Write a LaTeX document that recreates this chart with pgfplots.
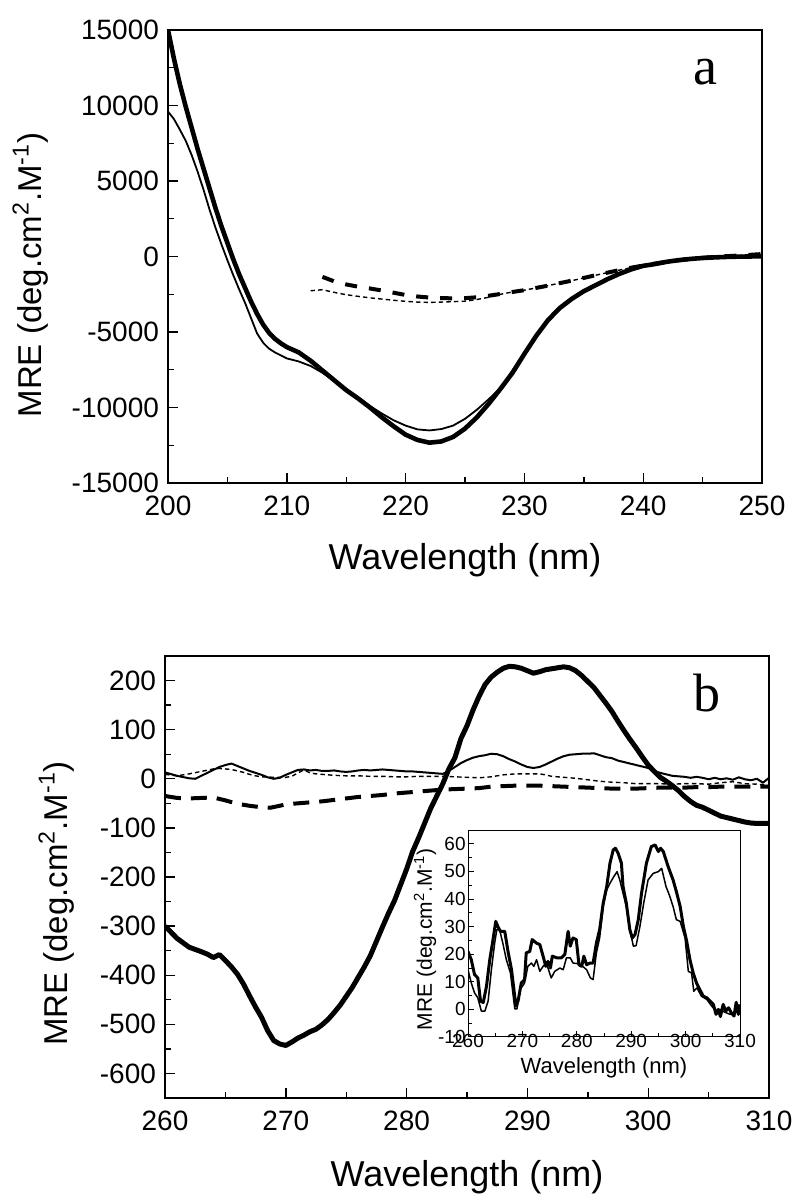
\documentclass[border=0pt]{standalone}
\usepackage{fontspec}
\setmainfont{Liberation Sans}
\newfontfamily\seriffont{Liberation Serif}
\usepackage{pgfplots}
\pgfplotsset{compat=1.18}

\newcommand\tickfont{\fontsize{14}{16}\selectfont}
\newcommand\insetfont{\fontsize{9.5}{11}\selectfont}

\pgfplotsset{
  myax/.style={
    scale only axis,
    axis line style={line width=0.7pt},
    tick align=inside,
    xtick pos=bottom, ytick pos=left,
    major tick length=5pt, minor tick length=3.2pt,
    tick style={line width=0.7pt, black},
    scaled ticks=false,
    every tick label/.append style={font=\tickfont},
    xticklabel style={yshift=-3pt},
    yticklabel style={xshift=-1pt},
    label style={font=\fontsize{18}{21}\selectfont},
    ylabel style={font=\fontsize{16.5}{19}\selectfont},
    /pgf/number format/assume math mode=true,
    /pgf/number format/1000 sep={},
  },
  thicksolid/.style={black, line width=2.3pt, line join=round},
  thinsolid/.style={black, line width=0.9pt, line join=round},
  thickdash/.style={black, line width=2.0pt, dash pattern=on 6pt off 6pt},
  thindash/.style={black, line width=0.7pt, dash pattern=on 2.2pt off 1.6pt},
}

\begin{document}
\begin{tikzpicture}
\useasboundingbox (0,0) rectangle (400pt,601pt);

% ---------------- panel a ----------------
\begin{axis}[myax,
  at={(84pt,359.5pt)}, anchor=south west,
  width=297pt, height=226.5pt,
  xmin=200, xmax=250, ymin=-15000, ymax=15000,
  xtick={200,210,...,250}, minor x tick num=1,
  ytick={-15000,-10000,...,15000}, minor y tick num=1,
  xlabel={Wavelength (nm)},
  ylabel={MRE (deg.cm\textsuperscript{2}.M\textsuperscript{-1})},
  xlabel style={at={(axis description cs:0.5,0)}, anchor=center, yshift=-38.5pt},
  ylabel style={at={(axis description cs:-0.232,0.459)}, anchor=center},
]
\addplot[thicksolid] coordinates {
(200,15000)(200.5,13100)(201,11400)(201.5,9900)(202,8500)(202.5,7100)(203,5800)(203.5,4500)
(204,3200)(204.5,2000)(205,900)(205.5,-200)(206,-1200)(206.5,-2100)(207,-3000)(207.5,-3800)
(208,-4500)(208.5,-5050)(209,-5450)(209.5,-5750)(210,-6000)(211,-6350)(212,-6900)(213,-7550)
(214,-8200)(215,-8850)(216,-9400)(217,-10000)(218,-10650)(219,-11250)(220,-11800)(221,-12150)
(222,-12330)(223,-12250)(224,-11950)(225,-11400)(226,-10650)(227,-9750)(228,-8750)(229,-7700)
(230,-6450)(231,-5250)(232,-4200)(233,-3400)(234,-2800)(235,-2300)(236,-1900)(237,-1500)
(238,-1150)(239,-850)(240,-620)(241,-500)(242,-350)(243,-240)(244,-160)(245,-100)(246,-60)
(247,-30)(248,-10)(249,0)(250,20)};
\addplot[thinsolid] coordinates {
(200,9600)(200.5,9100)(201,8400)(201.5,7650)(202,6700)(202.5,5600)(203,4400)(203.5,3100)
(204,1900)(204.5,800)(205,-250)(205.5,-1250)(206,-2200)(206.5,-3100)(207,-4100)(207.5,-5100)
(208,-5700)(208.5,-6100)(209,-6350)(209.5,-6550)(210,-6750)(211,-6950)(212,-7250)(213,-7700)
(214,-8250)(215,-8800)(216,-9350)(217,-9900)(218,-10400)(219,-10850)(220,-11200)(221,-11450)
(222,-11520)(223,-11430)(224,-11200)(225,-10750)(226,-10150)(227,-9450)(228,-8700)(229,-7550)
(230,-6350)(231,-5250)(232,-4200)(233,-3400)(234,-2800)(235,-2300)(236,-1900)(237,-1500)
(238,-1150)(239,-850)(240,-620)(241,-500)(242,-350)(243,-240)(244,-160)(245,-100)(246,-60)
(247,-30)(248,-10)(249,0)(250,20)};
\addplot[thickdash] coordinates {
(213,-1350)(213.5,-1500)(214,-1650)(215,-1850)(216,-2000)(217,-2120)(218,-2250)(219,-2400)
(220,-2550)(221,-2650)(222,-2720)(223,-2760)(224,-2770)(225,-2760)(226,-2700)(227,-2600)
(228,-2480)(229,-2350)(230,-2230)(231,-2080)(232,-1930)(233,-1760)(234,-1600)(235,-1420)
(236,-1240)(237,-1070)(238,-900)(239,-740)(240,-600)(241,-470)(242,-350)(243,-250)(244,-160)
(245,-90)(246,-30)(247,20)(248,60)(249,110)(250,160)};
\addplot[thindash] coordinates {
(212,-2270)(213,-2200)(214,-2380)(215,-2530)(216,-2640)(217,-2740)(218,-2820)(219,-2900)
(220,-2970)(221,-3020)(222,-3040)(223,-3020)(224,-2990)(225,-2960)(226,-2850)(227,-2700)
(228,-2500)(229,-2350)(230,-2230)(231,-2080)(232,-1930)(233,-1760)(234,-1600)(235,-1420)
(236,-1240)(237,-1070)(238,-900)(239,-740)(240,-600)(241,-470)(242,-350)(243,-250)(244,-160)
(245,-90)(246,-30)(247,20)(248,60)(249,110)(250,160)};
\node[font=\fontsize{27}{30}\selectfont\seriffont] at (axis description cs:0.904,0.907) {a};
\end{axis}

% ---------------- panel b ----------------
\begin{axis}[myax,
  at={(82.5pt,52pt)}, anchor=south west,
  width=302pt, height=221pt,
  xmin=260, xmax=310, ymin=-650, ymax=250,
  xtick={260,270,...,310}, minor x tick num=1,
  ytick={-600,-500,...,200}, minor y tick num=1,
  xlabel={Wavelength (nm)},
  ylabel={MRE (deg.cm\textsuperscript{2}.M\textsuperscript{-1})},
  xlabel style={at={(axis description cs:0.5,0)}, anchor=center, yshift=-39.5pt},
  ylabel style={at={(axis description cs:-0.18,0.44)}, anchor=center},
]
\addplot[thicksolid, line width=2.5pt] coordinates {
(260,-300)(261,-325)(262,-343)(263,-352)(263.5,-357)(264,-364)(264.5,-358)(265,-370)(265.5,-383)
(266,-398)(266.5,-418)(267,-442)(267.5,-465)(268,-486)(268.5,-513)(269,-533)(269.5,-540)(270,-543)
(270.5,-536)(271,-528)(271.5,-522)(272,-515)(272.5,-510)(273,-501)(273.5,-490)(274,-476)(274.5,-461)
(275,-443)(275.5,-425)(276,-404)(276.5,-383)(277,-360)(277.5,-331)(278,-302)(278.5,-274)(279,-248)
(279.5,-216)(280,-184)(280.5,-148)(281,-120)(281.5,-90)(282,-60)(282.5,-35)(283,-10)(283.5,20)
(284,43)(284.5,82)(285,108)(285.5,140)(286,168)(286.5,192)(287,207)(287.5,217)(288,225)(288.5,229)
(289,228)(289.5,225)(290,220)(290.5,215)(291,218)(291.5,222)(292,224)(292.5,226)(293,228)(293.5,226)
(294,220)(294.5,210)(295,198)(295.5,186)(296,170)(296.5,154)(297,137)(297.5,117)(298,98)(298.5,80)
(299,63)(299.5,45)(300,28)(300.5,15)(301,3)(301.5,-5)(302,-14)(302.5,-24)(303,-36)(303.5,-46)
(304,-54)(304.5,-58)(305,-64)(305.5,-70)(306,-76)(306.5,-79)(307,-82)(307.5,-85)(308,-88)(308.5,-90)
(309,-91)(309.5,-91)(310,-91)};
\addplot[thinsolid, line width=1pt] coordinates {
(260,13)(261,6)(262,1)(262.5,0)(263,6)(263.5,12)(264,18)(264.5,24)(265,28)(265.5,31)(266,26)
(266.5,21)(267,16)(267.5,12)(268,8)(268.5,3)(269,0)(269.5,2)(270,8)(270.5,13)(271,18)(271.5,19)
(272,17)(272.5,18)(273,16)(273.5,16)(274,17)(274.5,15)(275,14)(275.5,15)(276,17)(276.5,18)(277,17)
(277.5,18)(278,19)(278.5,18)(279,17)(279.5,16)(280,15)(280.5,15)(281,14)(281.5,13)(282,12)(282.5,11)
(283,10)(283.5,16)(284,24)(284.5,32)(285,38)(285.5,43)(286,46)(286.5,48)(287,51)(287.5,50)(288,46)
(288.5,40)(289,35)(289.5,29)(290,24)(290.5,22)(291,24)(291.5,29)(292,35)(292.5,41)(293,46)(293.5,49)
(294,50)(294.5,51)(295,51)(295.5,52)(296,48)(296.5,44)(297,42)(297.5,37)(298,34)(298.5,31)(299,28)
(299.5,25)(300,22)(300.5,16)(301,12)(301.5,9)(302,6)(302.5,5)(303,4)(303.5,2)(304,4)(304.5,2)
(305,-1)(305.5,2)(306,-1)(306.5,1)(307,-2)(307.5,3)(308,-1)(308.5,-3)(309,0)(309.5,-8)(310,2)};
\addplot[thindash] coordinates {
(260,9)(261,6)(262,10)(263,15)(264,20)(264.5,21)(265,20)(265.5,19)(266,16)(266.5,13)(267,9)
(267.5,6)(268,4)(269,3)(270,3)(270.5,5)(271,12)(271.5,18)(272,12)(272.5,10)(273,9)(274,7)(275,6)
(276,6)(277,5)(278,5)(279,4)(280,4)(281,5)(282,5)(283,5)(284,4)(285,3)(286,2)(287,4)(288,8)(289,10)
(290,10)(291,10)(291.5,8)(292,5)(293,3)(294,1)(295,-2)(296,-5)(297,-7)(298,-8)(299,-10)(300,-10)
(301,-10)(302,-11)(303,-10)(304,-10)(305,-11)(306,-8)(307,-6)(308,-10)(309,-11)(310,-13)};
\addplot[thickdash, dash pattern=on 8pt off 5pt] coordinates {
(260,-35)(261,-39)(262,-40)(263,-39)(264,-38)(265,-44)(266,-51)(267,-55)(268,-58)(268.7,-59)
(269.5,-55)(270,-52)(271,-50)(272,-48)(273,-46)(274,-43)(275,-40)(276,-37)(277,-35)(278,-33)
(279,-30)(280,-28)(281,-26)(282,-24)(283,-22)(284,-21)(285,-20)(286,-19)(287,-16)(288,-15)
(289,-14)(290,-14)(291,-14)(292,-15)(293,-16)(294,-17)(295,-18)(296,-19)(297,-20)(298,-20)
(299,-20)(300,-19)(301,-18)(302,-18)(303,-18)(304,-17)(305,-17)(306,-16)(307,-16)(308,-16)
(309,-16)(310,-16)};
\node[font=\fontsize{27}{30}\selectfont\seriffont] at (axis description cs:0.897,0.916) {b};
\end{axis}

% ---------------- inset ----------------
\begin{axis}[myax,
  at={(234pt,82.5pt)}, anchor=south west,
  width=136pt, height=103.5pt,
  xmin=260, xmax=310, ymin=-10, ymax=65,
  xtick={260,270,...,310}, minor x tick num=1,
  ytick={-10,0,...,60}, minor y tick num=1,
  major tick length=3pt, minor tick length=2pt,
  tick style={line width=0.5pt, black},
  axis line style={line width=0.5pt},
  every tick label/.append style={font=\insetfont},
  xticklabel style={anchor=north, inner sep=0pt, yshift=4.5pt},
  yticklabel style={inner sep=1pt, xshift=1pt},
  xlabel={Wavelength (nm)},
  ylabel={MRE (deg.cm\textsuperscript{2}.M\textsuperscript{-1})},
  xlabel style={font=\fontsize{11}{13}\selectfont, at={(axis description cs:0.5,0)}, anchor=center, yshift=-15.5pt},
  ylabel style={font=\fontsize{10.5}{12}\selectfont, at={(axis description cs:-0.158,0.473)}, anchor=center},
]
\addplot[black, line width=1.5pt, line join=round] coordinates {
(260,21)(260.6,18)(261.2,12.6)(261.8,11.4)(262.3,3)(262.8,2.5)(263.4,8.4)(264.0,18)(264.6,25.3)
(265.1,31.9)(265.5,30)(265.95,28.3)(266.75,28.3)(267.4,20.5)(268.0,14.4)(268.8,1.2)(269.2,3)
(269.8,9.6)(270.4,10.8)(270.7,20.5)(271.35,21)(271.8,25.3)(272.6,24)(273.2,23.5)(273.8,19.3)
(274.3,15.6)(274.7,17.4)(275.15,15)(275.5,19.3)(276.3,18.7)(277.2,18.7)(277.8,19.9)(278.4,28.3)
(278.8,22.9)(279.3,25.9)(279.9,25.3)(280.4,16.2)(280.9,15.6)(281.3,19.3)(281.8,16.2)(282.4,16.8)
(283.0,16.8)(283.6,24)(284.2,28.9)(284.85,38.5)(285.5,44.5)(286.1,53)(286.7,57.8)(287.1,58.4)
(287.6,56.6)(288.2,53)(288.5,44.5)(289.1,38.5)(289.75,28.9)(290.2,25.9)(290.7,27.1)(291.3,32.5)
(291.9,42.1)(292.8,53)(293.7,59)(294.4,59.6)(295.0,57.2)(295.4,58.4)(295.9,57.2)(296.8,51.7)
(297.7,46.9)(298.3,42.7)(299.0,37.3)(299.6,30)(300.2,24.7)(300.8,18)(301.4,13.2)(302.0,9.6)
(302.6,7.2)(303.25,4.8)(303.9,4.2)(304.5,3)(305.1,1.8)(305.6,-1.8)(306.0,0)(306.4,-2.6)(306.9,1.8)
(307.4,-0.6)(307.9,0.6)(308.4,-1.2)(308.9,-2.4)(309.3,2.6)(309.7,-1.8)(310,1.8)};
\addplot[black, line width=0.75pt, line join=round] coordinates {
(260,14.4)(260.6,9.6)(261.2,6)(261.8,4.2)(262.45,-0.6)(263.1,-0.6)(263.7,3)(264.3,14.4)(264.9,24)
(265.3,28.9)(265.8,28.9)(266.4,24)(267.05,18)(267.8,13.2)(268.6,0.2)(269.0,0.2)(269.6,7.2)
(270.4,9.6)(271.0,15.6)(271.65,16.8)(272.1,15.6)(272.6,18)(273.2,13.8)(273.8,15.6)(274.4,16.8)
(275.3,11.4)(275.95,13.8)(276.9,15)(277.5,14.4)(278.1,18.7)(278.8,18.7)(279.3,16.8)(280.1,16.6)
(280.9,15.9)(281.8,14.4)(282.5,11.4)(283.0,10.8)(283.6,20.5)(284.2,25.9)(284.85,37.3)(285.5,43.3)
(286.1,45.7)(286.8,48.1)(287.4,49.9)(287.9,46.9)(288.5,42.1)(289.1,37.3)(289.75,28.9)(290.4,22.9)
(290.9,23.1)(291.6,30)(292.3,38.5)(293.1,46.9)(294.05,49.3)(294.97,49.9)(295.6,51.1)(296.4,44.5)
(297.0,41.5)(297.7,37.3)(298.3,32.5)(299.0,31.9)(299.9,25.9)(300.5,13.8)(301.1,13.2)(301.5,6.6)
(302.1,7.8)(302.9,4.8)(303.9,3.6)(304.8,1.2)(305.6,-0.6)(306.3,0)(307.2,-1)(308.2,-1.8)(309.1,-1.2)
(310,0)};
\end{axis}
\end{tikzpicture}
\end{document}
